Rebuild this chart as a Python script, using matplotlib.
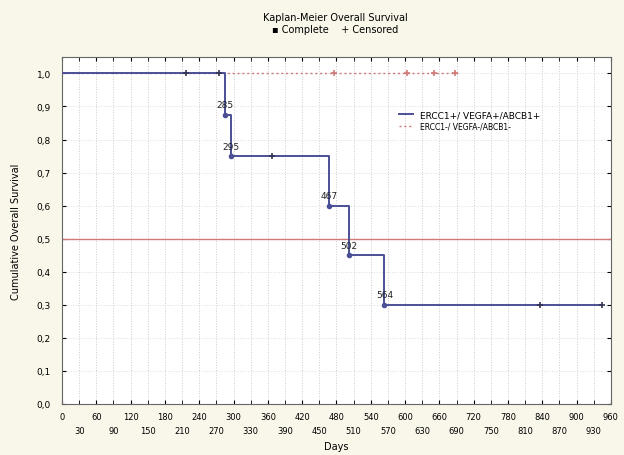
import matplotlib.pyplot as plt
import numpy as np
from matplotlib.ticker import FuncFormatter

# group 1: ERCC1+/VEGFA+/ABCB1+
pos_times = [0, 285, 295, 467, 502, 564, 944]
pos_surv = [1.0, 0.875, 0.75, 0.6, 0.45, 0.3, 0.3]
pos_events = [285, 295, 467, 502, 564]
pos_event_surv = [0.875, 0.75, 0.6, 0.45, 0.3]
pos_cens = [217, 274, 368, 836, 944]
pos_cens_surv = [1.0, 1.0, 0.75, 0.3, 0.3]

# group 2: ERCC1-/VEGFA-/ABCB1-
neg_times = [0, 692]
neg_surv = [1.0, 1.0]
neg_cens = [475, 604, 651, 688]
neg_cens_surv = [1.0, 1.0, 1.0, 1.0]

median_level = 0.5

blue = "#4b4f96"
red = "#cf7a78"

fig = plt.figure(figsize=(6.24, 4.56), dpi=100)
fig.patch.set_facecolor("#f9f6ea")
ax = fig.add_axes([0.0994, 0.112, 0.8796, 0.761])
ax.set_facecolor("white")

ax.axhline(median_level, color=red, lw=1.0, zorder=2)

ax.step(neg_times, neg_surv, where="post", color=red, lw=1.0, ls=(0, (1.5, 2)), zorder=3,
        label="ERCC1-/ VEGFA-/ABCB1-")
ax.plot(neg_cens, neg_cens_surv, "+", color=red, ms=4, mew=1.2, zorder=4)

ax.step(pos_times, pos_surv, where="post", color=blue, lw=1.4, zorder=5,
        label="ERCC1+/ VEGFA+/ABCB1+")
ax.plot(pos_events, pos_event_surv, "o", color=blue, ms=3, zorder=6)
ax.plot(pos_cens, pos_cens_surv, "+", color="#333355", ms=4, mew=1.2, zorder=6)

for t, s in zip(pos_events, pos_event_surv):
    ax.annotate(str(t), (t, s), xytext=(0, 4), textcoords="offset points",
                ha="center", va="bottom", fontsize=6.5, color="#222222", zorder=7)

ax.set_xlim(0, 960)
ax.set_ylim(0, 1.05)
ax.set_xticks(np.arange(0, 961, 60))
ax.set_xticks(np.arange(30, 931, 60), minor=True)
ax.set_xticklabels([str(v) for v in range(0, 961, 60)], fontsize=6)
ax.set_xticklabels([str(v) for v in range(30, 931, 60)], minor=True, fontsize=6)
ax.set_yticks(np.arange(0, 1.01, 0.1))
ax.yaxis.set_major_formatter(FuncFormatter(lambda v, p: f"{v:.1f}".replace(".", ",")))
ax.tick_params(axis="y", labelsize=6.5, direction="in", right=True, length=3, pad=8)
ax.tick_params(axis="x", which="major", direction="in", top=True, length=3, pad=6)
ax.tick_params(axis="x", which="minor", direction="in", top=True, length=3, pad=16)

ax.grid(True, which="both", axis="x", color="#cccccc", ls=":", lw=0.7)
ax.grid(True, which="major", axis="y", color="#dddddd", ls=":", lw=0.7)
for sp in ax.spines.values():
    sp.set_color("#666666")

ax.set_xlabel("Days", fontsize=7, labelpad=4)
ax.set_ylabel("Cumulative Overall Survival", fontsize=7)
ax.yaxis.set_label_coords(-0.075, 0.5)

h, l = ax.get_legend_handles_labels()
leg = ax.legend(h[::-1], l[::-1], loc="upper left", bbox_to_anchor=(0.6, 0.87),
                frameon=False, fontsize=6.5, handlelength=1.5, labelspacing=0.3)
leg.get_texts()[1].set_fontsize(5.5)

fig.text(0.537, 0.955, "Kaplan-Meier Overall Survival", ha="center", fontsize=7)
fig.text(0.537, 0.927, "\u25aa Complete    + Censored", ha="center", fontsize=7)

fig.savefig("out.png", dpi=100, facecolor=fig.get_facecolor())
